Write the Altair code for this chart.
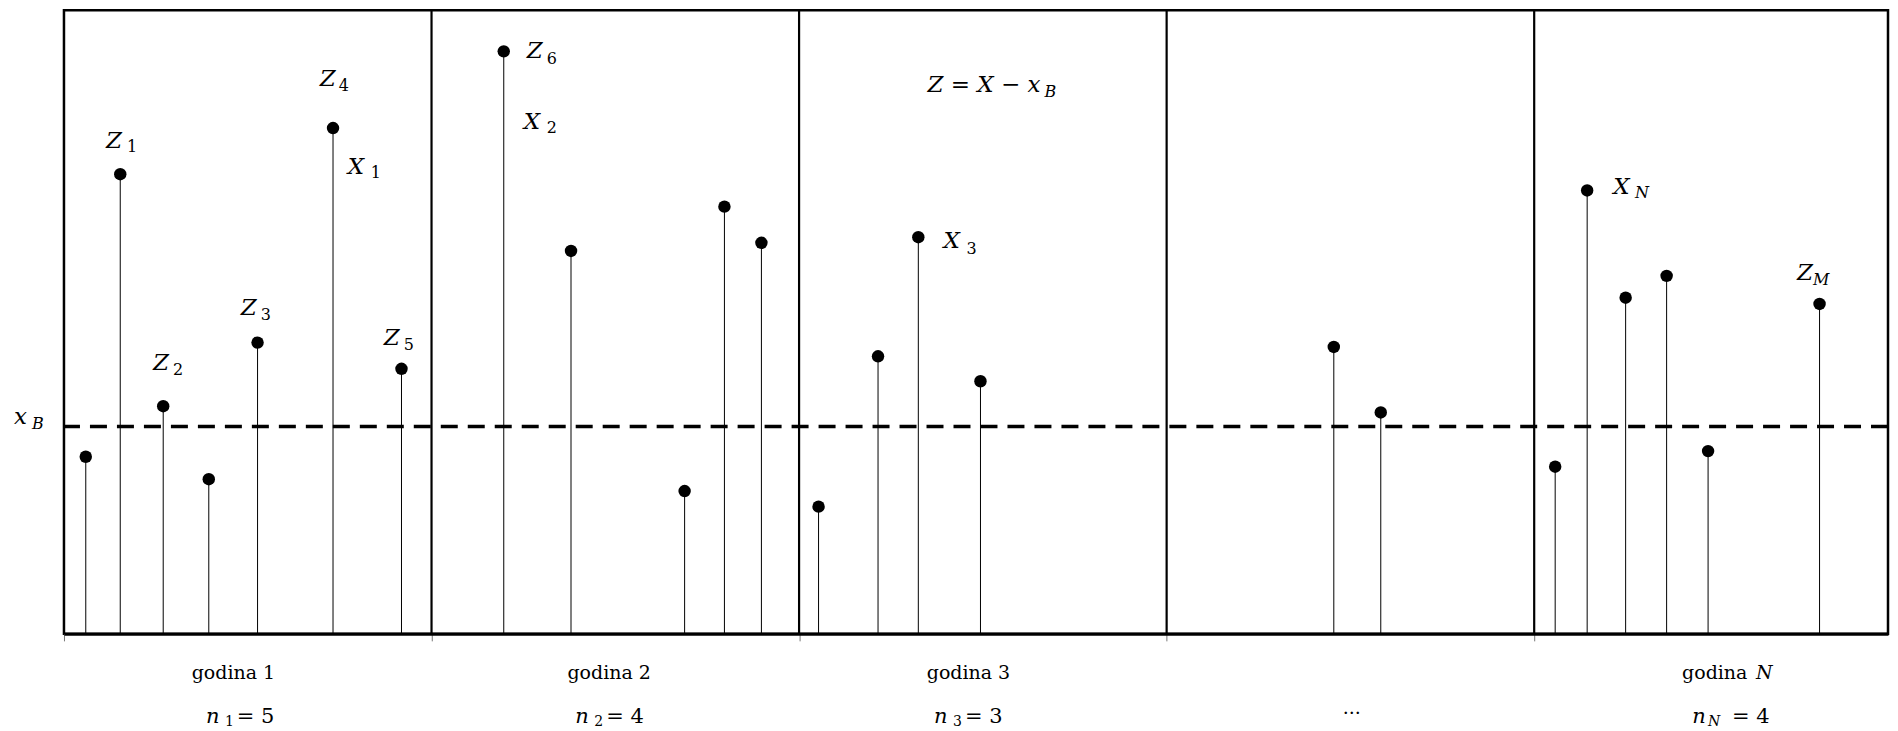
import altair as alt
import pandas as pd

# ---------------- data ----------------
# observations: hour index, position on the time axis (in hours), value X
obs_hour = [1, 1, 1, 1, 1, 1, 1, 2, 2, 2, 2, 2, 3, 3, 3, 3, 4, 4, 5, 5, 5, 5, 5, 5]
obs_pos = [0.0593, 0.1531, 0.2700, 0.3940, 0.5267, 0.7320, 0.9183,
           1.1965, 1.3795, 1.6886, 1.7969, 1.8975,
           2.0530, 2.2148, 2.3244, 2.4935,
           3.4548, 3.5826,
           4.0571, 4.1441, 4.2488, 4.3603, 4.4731, 4.7764]
obs_value = [28.4, 73.7, 36.5, 24.8, 46.7, 81.1, 42.5,
             93.4, 61.4, 22.9, 68.5, 62.7,
             20.4, 44.5, 63.6, 40.5,
             46.0, 35.5,
             26.8, 71.1, 53.9, 57.4, 29.3, 52.9]
x_B = 33.25
hour_bounds = [1, 2, 3, 4]
tick_values = [0, 1, 2, 3, 4]
X_MAX = 4.9626
Y_MAX = 100

# labels in the plot (main symbol italic, subscripts smaller)
lab_text = ["Z", "Z", "Z", "Z", "Z", "X", "Z", "X", "X", "X", "Z", "Z = X \u2212 x", "x",
            "1", "2", "3", "4", "5", "1", "6", "2", "3",
            "N", "M", "B", "B"]
lab_x = [0.1142, 0.2420, 0.4813, 0.6961, 0.8702, 0.7723, 1.2590, 1.2509, 2.3929, 4.2148, 4.7152, 2.3494, -0.1360,
         0.1713, 0.2964, 0.5357, 0.7478, 0.9245, 0.8348, 1.3134, 1.3134, 2.4555,
         4.2746, 4.7587, 2.6676, -0.0870]
lab_y = [77.88, 42.31, 51.12, 87.82, 46.31, 73.72, 92.31, 80.93, 61.86, 70.51, 56.73, 86.86, 33.70,
         77.24, 41.51, 50.32, 87.02, 45.51, 73.08, 91.35, 80.29, 60.90,
         69.87, 55.93, 86.06, 32.85]
lab_italic = [True] * 13 + [False] * 9 + [True] * 4
lab_size = [23] * 13 + [16] * 13

# labels under the axis
bot_text = ["godina 1", "godina 2", "godina 3", "...", "godina", "N",
            "n", "1", "= 5", "n", "2", "= 4", "n", "3", "= 3", "n", "N", "= 4"]
bot_x = [0.4609, 1.4833, 2.4609, 3.5037, 4.4024, 4.6037,
         0.3861, 0.4378, 0.4704, 1.3909, 1.4426, 1.4752, 2.3671, 2.4188, 2.4514, 4.4297, 4.4732, 4.5384]
bot_y = [-7.16, -7.16, -7.16, -12.8, -7.16, -7.16,
         -14.26, -14.82, -14.26, -14.26, -14.82, -14.26, -14.26, -14.82, -14.26, -14.26, -14.82, -14.26]
bot_italic = [False, False, False, False, False, True,
              True, False, False, True, False, False, True, False, False, True, True, False]
bot_size = [19, 19, 19, 19, 19, 19,
            21, 14, 21, 21, 14, 21, 21, 14, 21, 21, 14, 21]
bot_align = ["center", "center", "center", "center", "left", "left"] + ["left"] * 12

# ---------------- chart ----------------
FONT = "DejaVu Serif"

obs = pd.DataFrame({"hour": obs_hour, "pos": obs_pos, "value": obs_value})

xs = alt.Scale(domain=[0, X_MAX], nice=False, zero=False)
ys = alt.Scale(domain=[0, Y_MAX], nice=False, zero=False)

x_axis = alt.Axis(values=tick_values, labels=False, ticks=True, tickSize=7,
                  tickColor="#777", tickWidth=1, domain=True, domainColor="black",
                  domainWidth=3, grid=False, title=None)

stems = alt.Chart(obs).mark_rule(color="black", strokeWidth=1).encode(
    x=alt.X("pos:Q", scale=xs, axis=x_axis),
    y=alt.Y("value:Q", scale=ys, axis=None),
    y2=alt.datum(0),
)

dots = alt.Chart(obs).mark_point(filled=True, color="black", opacity=1, size=155).encode(
    x=alt.X("pos:Q", scale=xs),
    y=alt.Y("value:Q", scale=ys),
)

dividers = alt.Chart(pd.DataFrame({"b": hour_bounds})).mark_rule(
    color="black", strokeWidth=2.2).encode(
    x=alt.X("b:Q", scale=xs),
    y=alt.datum(0),
    y2=alt.datum(Y_MAX),
)

baseline = alt.Chart(pd.DataFrame({"xb": [x_B]})).mark_rule(
    color="black", strokeWidth=3.5, strokeDash=[17, 10]).encode(
    y=alt.Y("xb:Q", scale=ys),
)

labels = pd.DataFrame({"text": lab_text, "x": lab_x, "y": lab_y,
                       "italic": lab_italic, "size": lab_size, "align": "left"})
bottom = pd.DataFrame({"text": bot_text, "x": bot_x, "y": bot_y,
                       "italic": bot_italic, "size": bot_size, "align": bot_align})
ann = pd.concat([labels, bottom], ignore_index=True)


def text_layer(df, italic, align):
    sub = df[(df["italic"] == italic) & (df["align"] == align)]
    return alt.Chart(sub).mark_text(
        font=FONT, fontStyle="italic" if italic else "normal", align=align,
        baseline="alphabetic", color="black").encode(
        x=alt.X("x:Q", scale=xs),
        y=alt.Y("y:Q", scale=ys),
        text="text:N",
        size=alt.Size("size:Q", scale=None, legend=None),
    )


text_layers = [text_layer(ann, it, al)
               for it in (True, False) for al in ("left", "center")
               if len(ann[(ann["italic"] == it) & (ann["align"] == al)]) > 0]

chart = alt.layer(stems, dividers, baseline, dots, *text_layers).properties(
    width=1825, height=624,
    padding={"left": 5, "top": 0, "right": 0, "bottom": 0},
    background="white",
).configure_view(stroke="black", strokeWidth=2.5)

chart.save("out.html", embed_options={"renderer": "svg", "actions": False})
